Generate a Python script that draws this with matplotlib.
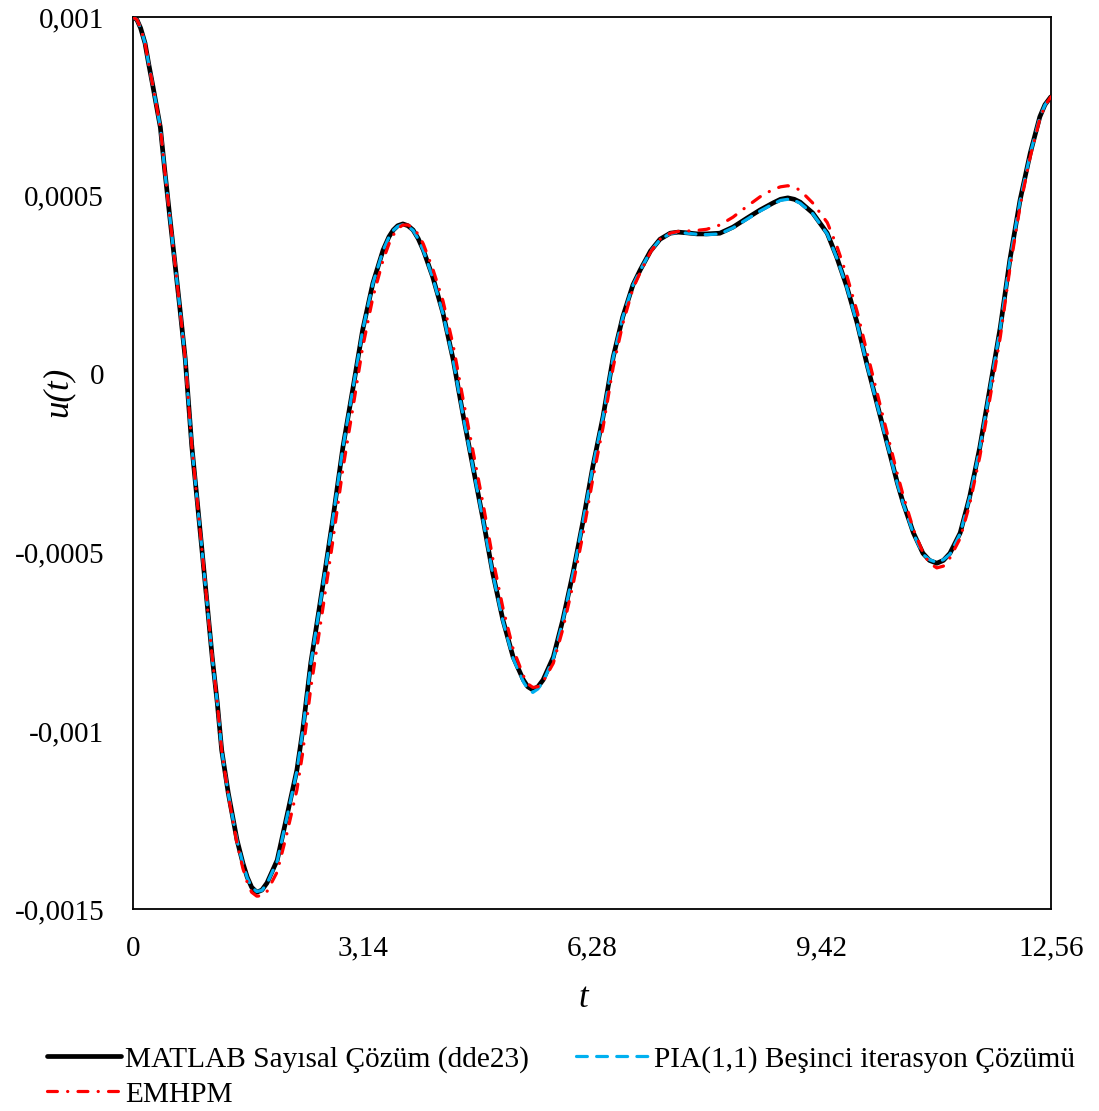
import matplotlib
matplotlib.use("Agg")
import matplotlib.pyplot as plt
import numpy as np

# ---- data (u values given in units of 1e-3) ----
t_matlab = [0, 0.05, 0.10, 0.16, 0.21, 0.27, 0.37, 0.43, 0.50, 0.57, 0.64, 0.71, 0.80, 0.87, 0.94, 1.01,
            1.08, 1.15, 1.21, 1.30, 1.42, 1.50, 1.56, 1.62, 1.69, 1.76, 1.83, 1.97, 2.10, 2.24, 2.32, 2.43,
            2.60, 2.73, 2.87, 3.01, 3.14, 3.28, 3.42, 3.50, 3.56, 3.62, 3.69, 3.76, 3.83, 3.90, 3.97, 4.10,
            4.24, 4.38, 4.51, 4.65, 4.79, 4.92, 5.06, 5.20, 5.34, 5.40, 5.47, 5.54, 5.61, 5.75, 5.88, 6.02,
            6.16, 6.29, 6.43, 6.57, 6.70, 6.84, 6.94, 7.08, 7.21, 7.35, 7.46, 7.58, 7.72, 7.85, 8.03, 8.21,
            8.40, 8.58, 8.76, 8.86, 8.96, 9.05, 9.13, 9.30, 9.50, 9.63, 9.77, 9.91, 10.04, 10.18, 10.32,
            10.46, 10.54, 10.68, 10.81, 10.90, 11.00, 11.09, 11.18, 11.32, 11.45, 11.59, 11.73, 11.87,
            12.00, 12.14, 12.28, 12.41, 12.48, 12.56]
u_matlab = [1.000, 0.993, 0.970, 0.928, 0.870, 0.805, 0.692, 0.572, 0.440, 0.311, 0.180, 0.045, -0.200,
            -0.345, -0.493, -0.642, -0.793, -0.922, -1.054, -1.174, -1.306, -1.370, -1.410, -1.438, -1.452,
            -1.446, -1.426, -1.362, -1.241, -1.109, -0.997, -0.809, -0.585, -0.409, -0.204, -0.036, 0.124,
            0.255, 0.348, 0.385, 0.404, 0.416, 0.421, 0.416, 0.404, 0.380, 0.348, 0.272, 0.171, 0.040,
            -0.109, -0.260, -0.409, -0.557, -0.689, -0.793, -0.857, -0.876, -0.885, -0.876, -0.857, -0.793,
            -0.689, -0.557, -0.409, -0.260, -0.120, 0.048, 0.160, 0.250, 0.292, 0.345, 0.378, 0.395, 0.398,
            0.396, 0.393, 0.393, 0.395, 0.412, 0.437, 0.460, 0.480, 0.490, 0.494, 0.490, 0.482, 0.452,
            0.395, 0.328, 0.244, 0.143, 0.031, -0.081, -0.193, -0.305, -0.361, -0.445, -0.502, -0.522,
            -0.530, -0.522, -0.502, -0.445, -0.344, -0.204, -0.036, 0.132, 0.320, 0.488, 0.620, 0.721,
            0.755, 0.777]

t_pia = list(t_matlab)
u_pia = [1.000, 0.993, 0.970, 0.928, 0.870, 0.805, 0.692, 0.572, 0.440, 0.311, 0.180, 0.045, -0.200,
         -0.345, -0.493, -0.642, -0.793, -0.922, -1.054, -1.176, -1.308, -1.372, -1.412, -1.438, -1.450,
         -1.447, -1.428, -1.365, -1.245, -1.112, -0.999, -0.811, -0.587, -0.410, -0.205, -0.037, 0.123,
         0.254, 0.347, 0.384, 0.403, 0.414, 0.419, 0.414, 0.403, 0.379, 0.347, 0.270, 0.169, 0.038,
         -0.111, -0.262, -0.411, -0.559, -0.692, -0.797, -0.862, -0.882, -0.892, -0.882, -0.862, -0.797,
         -0.692, -0.559, -0.410, -0.261, -0.121, 0.047, 0.159, 0.249, 0.291, 0.344, 0.377, 0.394, 0.397,
         0.395, 0.392, 0.391, 0.393, 0.410, 0.434, 0.457, 0.477, 0.487, 0.490, 0.487, 0.479, 0.450,
         0.393, 0.326, 0.242, 0.141, 0.029, -0.083, -0.195, -0.307, -0.363, -0.447, -0.505, -0.520,
         -0.528, -0.520, -0.505, -0.447, -0.346, -0.206, -0.038, 0.130, 0.318, 0.486, 0.618, 0.720,
         0.754, 0.777]

t_emhpm = list(t_matlab)
u_emhpm = [1.000, 0.993, 0.970, 0.928, 0.870, 0.805, 0.692, 0.572, 0.440, 0.311, 0.180, 0.045, -0.200,
           -0.345, -0.493, -0.642, -0.793, -0.922, -1.054, -1.180, -1.315, -1.385, -1.425, -1.452, -1.463,
           -1.462, -1.450, -1.395, -1.290, -1.165, -1.060, -0.880, -0.650, -0.470, -0.265, -0.090, 0.075,
           0.215, 0.320, 0.365, 0.390, 0.408, 0.418, 0.418, 0.410, 0.392, 0.365, 0.295, 0.205, 0.080,
           -0.065, -0.215, -0.365, -0.515, -0.655, -0.770, -0.845, -0.868, -0.878, -0.876, -0.862, -0.810,
           -0.715, -0.590, -0.445, -0.295, -0.150, 0.020, 0.140, 0.240, 0.285, 0.342, 0.378, 0.395, 0.400,
           0.401, 0.403, 0.406, 0.418, 0.440, 0.470, 0.497, 0.518, 0.525, 0.528, 0.524, 0.515, 0.480,
           0.425, 0.360, 0.275, 0.175, 0.065, -0.050, -0.165, -0.280, -0.340, -0.435, -0.500, -0.530,
           -0.543, -0.538, -0.515, -0.460, -0.365, -0.230, -0.065, 0.105, 0.295, 0.470, 0.610, 0.715,
           0.752, 0.777]

x_ticks = [0, 3.14, 6.28, 9.42, 12.56]
x_tick_labels = ["0", "3,14", "6,28", "9,42", "12,56"]
y_ticks = [0.001, 0.0005, 0, -0.0005, -0.001, -0.0015]
y_tick_labels = ["0,001", "0,0005", "0", "-0,0005", "-0,001", "-0,0015"]

scale = 1e-3

plt.rcParams['font.family'] = ['Liberation Serif', 'DejaVu Serif']

fig = plt.figure(figsize=(10.99, 11.11), dpi=100)
ax = fig.add_axes([0.1213, 0.1815, 0.8348, 0.8029])

l_mat, = ax.plot(t_matlab, np.array(u_matlab) * scale, color='black', lw=3.4,
                 solid_capstyle='round', solid_joinstyle='round',
                 label='MATLAB Sayısal Çözüm (dde23)', zorder=2)
l_pia, = ax.plot(t_pia, np.array(u_pia) * scale, color='#00B0F0', lw=2.3, dashes=(3.4, 2.9),
                 dash_capstyle='round', dash_joinstyle='round',
                 label='PIA(1,1) Beşinci iterasyon Çözümü', zorder=3)
l_em, = ax.plot(t_emhpm, np.array(u_emhpm) * scale, color='#FF0000', lw=2.3,
                dashes=(3.1, 3.2, 0.05, 3.2), dash_capstyle='round', dash_joinstyle='round',
                label='EMHPM', zorder=4)

ax.set_xlim(0, 12.56)
ax.set_ylim(-0.0015, 0.001)
ax.set_xticks(x_ticks)
ax.set_xticklabels(x_tick_labels)
ax.set_yticks(y_ticks)
ax.set_yticklabels(y_tick_labels)
ax.tick_params(axis='both', length=0, labelsize=21)
ax.tick_params(axis='x', pad=19)
ax.tick_params(axis='y', pad=21)
for sp in ax.spines.values():
    sp.set_linewidth(1.3)
    sp.set_color('black')

ax.set_xlabel('t', fontsize=25, style='italic', va='center')
ax.xaxis.set_label_coords(0.490, -0.100)
ax.set_ylabel('u(t)', fontsize=25, style='italic', va='center')
ax.yaxis.set_label_coords(-0.082, 0.58)

fig.legend([l_mat, l_em, l_pia], [l_mat.get_label(), l_em.get_label(), l_pia.get_label()],
           loc='upper left', bbox_to_anchor=(0.0428, 0.0585), ncol=2, frameon=False, fontsize=21.2,
           handlelength=2.5, handletextpad=0.14, columnspacing=1.62, labelspacing=0.27, borderpad=0,
           borderaxespad=0)

fig.savefig('out.png', dpi=100)
